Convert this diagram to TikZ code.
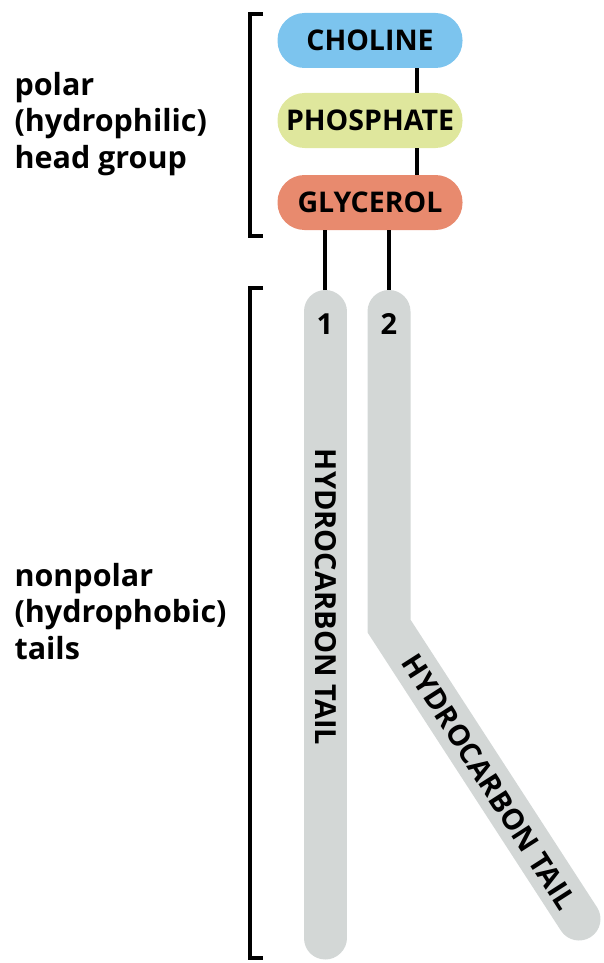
\documentclass[tikz,border=0pt]{standalone}
\usepackage{fontspec}
\setmainfont{Open Sans}
\usetikzlibrary{calc,positioning}
\definecolor{cholineblue}{HTML}{7CC4EE}
\definecolor{phosgreen}{HTML}{DFE79D}
\definecolor{glycred}{HTML}{E88A6E}
\definecolor{tailgray}{HTML}{D3D7D6}

\tikzset{
  pill/.style={rounded corners=27pt,minimum width=185pt,minimum height=55pt,
    inner sep=0pt,font=\fontsize{28.5}{28.5}\selectfont\bfseries},
  link/.style={line width=3.5pt},
  tail/.style={draw=tailgray,line width=43pt,line cap=round},
  brace/.style={line width=3.5pt},
  side/.style={anchor=north west,align=left,font=\fontsize{30.5}{36.5}\selectfont\bfseries},
  tailtext/.style={font=\fontsize{29}{29}\selectfont\bfseries}
}

\begin{document}
\begin{tikzpicture}[x=1pt,y=-1pt]
   \useasboundingbox (0,0) rectangle (604,963);
   % head group
   \node[pill,fill=cholineblue] (choline) at (370,40.5) {CHOLINE};
   \node[pill,fill=phosgreen] (phosphate) at (370,120.5) {PHOSPHATE};
   \node[pill,fill=glycred] (glycerol) at (370,202.5) {GLYCEROL};
   \draw[link] ([xshift=47pt]choline.south) -- ([xshift=47pt]phosphate.north);
   \draw[link] ([xshift=47pt]phosphate.south) -- ([xshift=47pt]glycerol.north);
   % tails
   \coordinate (topA) at (325,290);
   \coordinate (topB) at (389,290);
   \coordinate (endA) at (325,938);
   \coordinate (bendB) at (389,626);
   \coordinate (endB) at (579,919);
   \draw[tail] ([yshift=-21.5pt]topA) -- (endA);
   \draw[tail,line join=miter] ([yshift=-21.5pt]topB) -- (bendB) -- (endB);
   \draw[link] ([xshift=-45pt]glycerol.south) -- (topA);
   \draw[link] ([xshift=19pt]glycerol.south) -- (topB);
   \node[tailtext] (one) at (325,324) {1};
   \node[tailtext] (two) at (389,324) {2};
   \node[tailtext,rotate=-90] (tailA) at (326,597) {HYDROCARBON TAIL};
   \node[tailtext,rotate=-57.4] (tailB) at (489,782) {HYDROCARBON TAIL};
   % brackets
   \draw[brace] (263,14) -- (250,14) -- (250,236) -- (263,236);
   \draw[brace] (263,288) -- (250,288) -- (250,958) -- (263,958);
   % labels
   \node[side] (polar) at (11,68.5) {polar\\(hydrophilic)\\head group};
   \node[side] (nonpolar) at (11,559.5) {nonpolar\\(hydrophobic)\\tails};
\end{tikzpicture}
\end{document}
